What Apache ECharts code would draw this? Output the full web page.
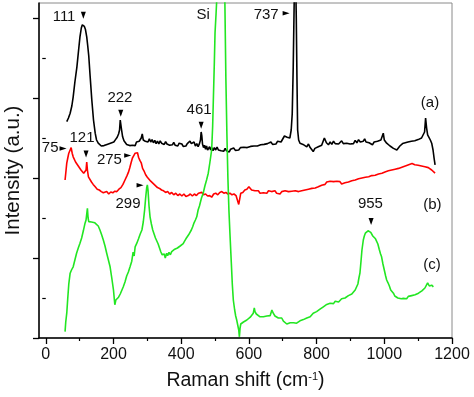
<!DOCTYPE html>
<html><head><meta charset="utf-8">
<script src="https://cdn.jsdelivr.net/npm/echarts@6/dist/echarts.min.js"></script>
<style>html,body{margin:0;padding:0;background:#fff}#c{width:474px;height:397px}</style>
</head><body><div id="c"></div>
<script>
// ---- axis ticks ----
const xTicks = [0,200,400,600,800,1000,1200];
const xMinorTicks = [100,300,500,700,900,1100];
const yTicks = [0,2,4,6,8];
const yMinorTicks = [1,3,5,7];

// ---- spectra: [Raman shift (cm-1), intensity (a.u., offset)] ----
const spectrumA = [[62,5.41],[67,5.5],[72,5.62],[77,5.8],[81,6.03],[86,6.4],[92,6.78],[97,7.2],[101,7.53],[105,7.75],[108,7.83],[111,7.86],[114,7.79],[117,7.72],[121,7.53],[124,7.3],[127,7.05],[131,6.55],[136,5.95],[141,5.45],[146,5.12],[150,4.95],[155,4.87],[160,4.83],[164,4.8],[168,4.76],[172,4.81],[176,4.78],[181,4.84],[186,4.81],[191,4.87],[196,4.85],[201,4.9],[206,4.96],[211,5.02],[215,5.1],[218,5.2],[220,5.45],[222,5.5],[224,5.2],[227,5.03],[231,4.93],[235,4.88],[239,4.84],[244,4.86],[248,4.81],[252,4.85],[256,4.82],[260,4.86],[264,4.81],[268,4.9],[272,4.86],[276,4.92],[279,4.9],[282,5.0],[285,5.1],[288,4.95],[291,4.99],[294,4.92],[298,4.97],[302,4.9],[306,4.98],[310,4.9],[314,4.96],[318,4.88],[322,4.94],[326,4.86],[330,4.92],[334,4.85],[338,4.93],[342,4.87],[346,4.9],[350,4.84],[354,4.91],[358,4.85],[362,4.88],[366,4.82],[370,4.87],[374,4.83],[378,4.89],[382,4.82],[386,4.86],[390,4.8],[394,4.87],[398,4.82],[402,4.85],[406,4.79],[410,4.84],[414,4.8],[418,4.86],[422,4.82],[426,4.92],[430,4.86],[434,4.82],[438,4.9],[442,4.8],[446,4.86],[450,4.78],[454,4.86],[457,4.95],[459,5.15],[461,5.05],[463,4.85],[466,4.76],[469,4.82],[472,4.72],[475,4.8],[478,4.7],[481,4.66],[484,4.78],[487,4.7],[490,4.76],[494,4.68],[498,4.76],[502,4.7],[506,4.77],[510,4.7],[514,4.74],[518,4.68],[522,4.73],[526,4.67],[530,4.74],[534,4.68],[538,4.72],[542,4.65],[546,4.72],[550,4.68],[555,4.75],[560,4.69],[565,4.74],[570,4.7],[575,4.76],[580,4.71],[585,4.77],[590,4.72],[595,4.76],[600,4.73],[605,4.79],[610,4.74],[615,4.8],[620,4.76],[625,4.8],[630,4.75],[635,4.83],[640,4.78],[645,4.84],[650,4.8],[655,4.86],[660,4.82],[665,4.9],[670,4.84],[675,4.88],[680,4.85],[685,4.92],[690,4.87],[695,4.9],[700,4.95],[705,5.05],[709,5.1],[713,5.02],[717,5.05],[721,5.0],[725,5.2],[728,5.6],[731,6.78],[734,8.5],[737,9.6],[740,8.0],[742,6.5],[744,5.2],[747,4.95],[751,4.87],[755,4.92],[760,4.84],[765,4.88],[771,4.78],[776,4.85],[781,4.76],[786,4.72],[790,4.66],[795,4.74],[800,4.7],[805,4.78],[810,4.78],[815,4.82],[820,4.86],[823,5.0],[826,5.03],[829,4.88],[832,4.86],[835,4.83],[840,4.9],[845,4.84],[850,4.92],[855,4.86],[860,4.9],[865,4.85],[869,4.87],[874,4.93],[879,4.86],[884,4.9],[889,4.87],[894,4.92],[899,4.85],[904,4.9],[909,4.86],[914,4.94],[919,4.88],[924,4.96],[929,4.9],[934,4.95],[938,4.92],[942,4.98],[946,4.9],[950,4.95],[955,4.88],[960,4.9],[965,4.83],[970,4.9],[975,4.86],[980,4.92],[985,4.88],[990,4.95],[994,5.0],[997,5.12],[1000,4.95],[1004,4.92],[1007,4.87],[1012,4.84],[1017,4.8],[1022,4.78],[1027,4.74],[1032,4.72],[1037,4.7],[1042,4.74],[1046,4.8],[1050,4.84],[1054,4.86],[1058,4.82],[1062,4.88],[1066,4.85],[1070,4.9],[1075,4.87],[1080,4.92],[1085,4.88],[1090,4.93],[1095,4.9],[1100,4.96],[1105,4.93],[1110,5.0],[1115,5.03],[1119,5.15],[1122,5.5],[1125,5.25],[1128,5.08],[1132,5.03],[1136,4.95],[1140,4.87],[1144,4.7],[1147,4.5],[1150,4.33]];

const spectrumB = [[57,3.95],[60,4.2],[62,4.37],[65,4.5],[68,4.62],[72,4.7],[75,4.76],[78,4.62],[81,4.53],[84,4.5],[88,4.4],[92,4.37],[96,4.3],[100,4.26],[104,4.2],[108,4.18],[112,4.12],[116,4.08],[119,4.2],[121,4.4],[123,4.2],[126,4.03],[130,3.98],[135,3.9],[140,3.84],[146,3.78],[152,3.72],[158,3.7],[164,3.66],[170,3.63],[175,3.62],[180,3.66],[186,3.6],[192,3.65],[198,3.63],[204,3.67],[210,3.66],[216,3.72],[222,3.76],[228,3.84],[234,3.95],[240,4.06],[244,4.14],[248,4.25],[252,4.38],[256,4.5],[260,4.56],[264,4.62],[268,4.6],[271,4.63],[274,4.52],[278,4.44],[282,4.38],[286,4.24],[290,4.18],[295,4.08],[300,4.02],[305,3.98],[310,3.92],[315,3.9],[320,3.84],[325,3.82],[330,3.76],[336,3.74],[342,3.7],[348,3.68],[354,3.64],[360,3.66],[366,3.6],[372,3.64],[378,3.58],[384,3.62],[390,3.56],[396,3.6],[402,3.55],[408,3.6],[414,3.54],[421,3.56],[427,3.6],[433,3.55],[439,3.6],[445,3.56],[451,3.62],[456,3.58],[461,3.64],[466,3.58],[472,3.6],[478,3.55],[484,3.56],[490,3.52],[496,3.6],[502,3.62],[508,3.58],[514,3.64],[520,3.66],[526,3.62],[532,3.64],[538,3.6],[544,3.62],[550,3.58],[556,3.6],[562,3.56],[567,3.58],[570,3.34],[573,3.38],[576,3.62],[582,3.64],[588,3.7],[594,3.72],[600,3.78],[604,3.75],[608,3.7],[613,3.66],[618,3.68],[623,3.64],[628,3.68],[633,3.62],[638,3.67],[643,3.63],[648,3.68],[653,3.62],[658,3.68],[662,3.64],[667,3.66],[672,3.62],[677,3.68],[682,3.62],[687,3.64],[692,3.6],[697,3.66],[702,3.62],[707,3.68],[712,3.64],[717,3.66],[722,3.62],[727,3.67],[732,3.63],[737,3.68],[742,3.64],[747,3.66],[751,3.63],[756,3.68],[761,3.64],[766,3.7],[771,3.66],[776,3.72],[781,3.68],[786,3.74],[791,3.7],[796,3.75],[800,3.73],[805,3.78],[810,3.76],[815,3.82],[820,3.86],[825,3.84],[830,3.9],[835,3.86],[840,3.92],[845,3.88],[850,3.91],[855,3.86],[860,3.92],[865,3.87],[869,3.91],[874,3.85],[879,3.83],[884,3.88],[889,3.85],[894,3.9],[899,3.87],[904,3.93],[909,3.9],[914,3.95],[919,3.92],[924,3.98],[929,3.94],[934,4.0],[939,3.96],[944,4.02],[949,3.98],[954,4.03],[958,4.02],[963,4.06],[968,4.02],[973,4.07],[978,4.04],[983,4.1],[988,4.06],[993,4.12],[997,4.1],[1002,4.15],[1007,4.12],[1012,4.18],[1017,4.15],[1022,4.2],[1027,4.17],[1032,4.22],[1037,4.19],[1042,4.24],[1047,4.22],[1052,4.27],[1057,4.25],[1062,4.3],[1067,4.28],[1072,4.33],[1077,4.32],[1082,4.36],[1086,4.38],[1090,4.33],[1095,4.3],[1100,4.32],[1105,4.27],[1110,4.3],[1115,4.26],[1120,4.28],[1125,4.24],[1130,4.26],[1135,4.22],[1140,4.2],[1145,4.16],[1150,4.12]];

const spectrumC = [[57,0.16],[59,0.4],[62,0.62],[65,1.0],[68,1.35],[72,1.62],[76,1.7],[81,1.78],[86,1.95],[91,2.12],[96,2.25],[101,2.37],[106,2.5],[111,2.68],[116,2.87],[119,2.95],[121,3.1],[123,3.24],[125,3.0],[127,2.91],[131,2.95],[135,2.9],[140,2.93],[145,2.88],[150,2.87],[155,2.8],[160,2.7],[165,2.58],[170,2.45],[175,2.3],[180,2.12],[185,1.95],[190,1.78],[195,1.5],[200,1.2],[204,0.83],[207,0.95],[210,0.91],[215,1.02],[220,1.1],[225,1.2],[229,1.28],[234,1.4],[239,1.55],[244,1.65],[249,1.78],[254,1.92],[258,2.15],[261,2.05],[264,2.28],[269,2.37],[274,2.48],[279,2.6],[284,2.7],[288,2.9],[292,3.2],[295,3.5],[298,3.75],[300,3.83],[302,3.7],[305,3.3],[308,3.03],[312,2.85],[316,2.7],[320,2.6],[324,2.5],[328,2.45],[332,2.35],[336,2.25],[340,2.15],[344,2.08],[347,2.03],[350,2.1],[353,2.0],[357,2.12],[360,2.06],[364,2.14],[368,2.08],[372,2.16],[377,2.16],[381,2.22],[385,2.18],[389,2.25],[393,2.2],[397,2.3],[402,2.28],[406,2.36],[410,2.42],[414,2.48],[418,2.53],[422,2.58],[426,2.62],[430,2.7],[434,2.78],[438,2.88],[442,2.95],[446,3.03],[450,3.2],[454,3.3],[456,3.37],[460,3.5],[465,3.62],[470,3.8],[475,3.95],[480,4.12],[485,4.4],[490,4.7],[493,5.3],[495,5.95],[498,6.9],[500,7.63],[503,8.1],[505,8.45],[510,9.8],[515,11],[520,12],[525,11],[529,8.45],[532,6.5],[535,5.12],[538,4.0],[541,3.2],[544,2.62],[548,1.9],[551,1.35],[554,0.95],[558,0.7],[561,0.55],[564,0.45],[567,0.4],[570,0.2],[572,0.03],[574,0.25],[576,0.35],[579,0.37],[584,0.4],[589,0.42],[594,0.45],[599,0.48],[604,0.52],[609,0.55],[613,0.62],[616,0.75],[618,0.66],[622,0.6],[627,0.58],[633,0.53],[638,0.56],[643,0.53],[648,0.58],[653,0.55],[658,0.6],[663,0.56],[668,0.7],[672,0.62],[677,0.55],[682,0.58],[687,0.5],[692,0.45],[697,0.5],[702,0.42],[707,0.38],[712,0.35],[717,0.33],[722,0.38],[727,0.34],[732,0.38],[737,0.36],[741,0.37],[746,0.4],[751,0.43],[756,0.42],[761,0.46],[766,0.48],[771,0.5],[776,0.52],[781,0.53],[786,0.58],[790,0.62],[795,0.6],[800,0.66],[805,0.68],[810,0.72],[815,0.7],[820,0.78],[825,0.8],[830,0.84],[835,0.82],[840,0.87],[845,0.9],[850,0.86],[855,0.92],[860,0.94],[865,0.9],[869,0.95],[874,0.98],[879,0.96],[884,1.0],[889,1.03],[894,1.06],[899,1.04],[904,1.1],[909,1.15],[914,1.2],[918,1.24],[922,1.35],[925,1.5],[928,1.62],[931,1.9],[934,2.2],[938,2.45],[941,2.55],[944,2.62],[948,2.66],[952,2.68],[956,2.66],[960,2.64],[963,2.66],[966,2.55],[970,2.52],[974,2.48],[977,2.45],[981,2.35],[985,2.22],[989,2.1],[992,2.03],[996,1.85],[1000,1.7],[1004,1.55],[1007,1.45],[1011,1.38],[1015,1.3],[1019,1.2],[1023,1.15],[1027,1.12],[1031,1.05],[1035,1.08],[1040,1.0],[1045,1.04],[1050,0.98],[1056,0.99],[1061,1.02],[1066,0.98],[1071,1.04],[1076,1.0],[1081,1.06],[1086,1.03],[1091,1.08],[1096,1.06],[1101,1.12],[1106,1.1],[1111,1.18],[1115,1.2],[1120,1.25],[1125,1.3],[1128,1.38],[1130,1.41],[1133,1.3],[1136,1.28],[1140,1.32],[1145,1.28]];

// ---- annotations: [text, x (cm-1), y (a.u.)] ----
const peakLabels = [['111',54,8.03],['222',219,6.0],['461',453,5.7],['75',13,4.75],['121',107,5.0],['275',188,4.45],['299',243,3.35],['Si',465,8.07],['737',651,8.07],['955',959,3.35],['(a)',1135,5.87],['(b)',1142,3.32],['(c)',1141,1.82]];
const downArrows = [[111,8.07],[221.5,5.62],[459,5.32],[119,4.6],[961,2.91]];
const rightArrows = [[51,4.74],[242,4.56],[278.5,3.82],[710,8.12]];

const FONT = "'Liberation Sans', Arial, sans-serif";
const TXT = '#111';
const chart = echarts.init(document.getElementById('c'), null, {renderer:'canvas'});

const lineSeries = (data, color) => ({
  type:'line', data, showSymbol:false, symbol:'none', animation:false, silent:true,
  lineStyle:{color, width:1.6}, z:3, clip:true
});

chart.setOption({
  animation:false,
  backgroundColor:'#fff',
  grid:{left:39, right:22, top:3, bottom:59, show:true, borderColor:'#8a8a8a', borderWidth:1, containLabel:false, outerBoundsMode:'none'},
  xAxis:[{
    type:'value', min:-20, max:1200,
    axisLine:{show:true, onZero:false, lineStyle:{color:'#000', width:1.5}},
    axisTick:{show:true, inside:false, length:6, customValues:xTicks, lineStyle:{color:'#000', width:1.3}},
    axisLabel:{customValues:xTicks, formatter:v => String(v), fontSize:16, color:TXT, fontFamily:FONT, margin:9},
    splitLine:{show:false},
    name:'{a|Raman shift (cm}{s|-1}{a|)}', nameLocation:'middle', nameGap:33,
    nameTextStyle:{fontFamily:FONT, color:TXT, rich:{a:{fontSize:19.5, fontFamily:FONT, color:TXT}, s:{fontSize:11, fontFamily:FONT, color:TXT, verticalAlign:'top', lineHeight:12}}}
  },{
    type:'value', min:-20, max:1200, position:'bottom',
    axisLine:{show:false}, axisLabel:{show:false}, splitLine:{show:false},
    axisTick:{show:true, length:3, customValues:xMinorTicks, lineStyle:{color:'#000', width:1.2}}
  }],
  yAxis:[{
    type:'value', min:0, max:8.375,
    axisLine:{show:true, onZero:false, lineStyle:{color:'#000', width:1.5}},
    axisTick:{show:true, length:6, customValues:yTicks, lineStyle:{color:'#000', width:1.3}},
    axisLabel:{show:false}, splitLine:{show:false},
    name:'Intensity (a.u.)', nameLocation:'middle', nameGap:15,
    nameTextStyle:{fontSize:20.5, fontFamily:FONT, color:TXT}
  },{
    type:'value', min:0, max:8.375, position:'left',
    axisLine:{show:false}, axisLabel:{show:false}, splitLine:{show:false},
    axisTick:{show:true, length:3.5, customValues:yMinorTicks, lineStyle:{color:'#000', width:1.2}}
  }],
  series:[
    lineSeries(spectrumA, '#000000'),
    lineSeries(spectrumB, '#ff0000'),
    lineSeries(spectrumC, '#22e622'),
    {
      type:'scatter', silent:true, animation:false, symbolSize:0, z:5,
      itemStyle:{opacity:1},
      data: peakLabels.map(p => ({value:[p[1],p[2]], name:p[0]})),
      label:{show:true, position:'inside', formatter:p => p.name, fontSize:15, fontFamily:FONT, color:TXT, opacity:1}
    },
    {
      type:'scatter', silent:true, animation:false, symbol:'triangle', symbolSize:[5,7], symbolRotate:180, z:5,
      itemStyle:{color:'#000', opacity:1}, data: downArrows
    },
    {
      type:'scatter', silent:true, animation:false, symbol:'triangle', symbolSize:[4.5,7], symbolRotate:-90, z:5,
      itemStyle:{color:'#000', opacity:1}, data: rightArrows
    }
  ]
});
</script>
</body></html>
